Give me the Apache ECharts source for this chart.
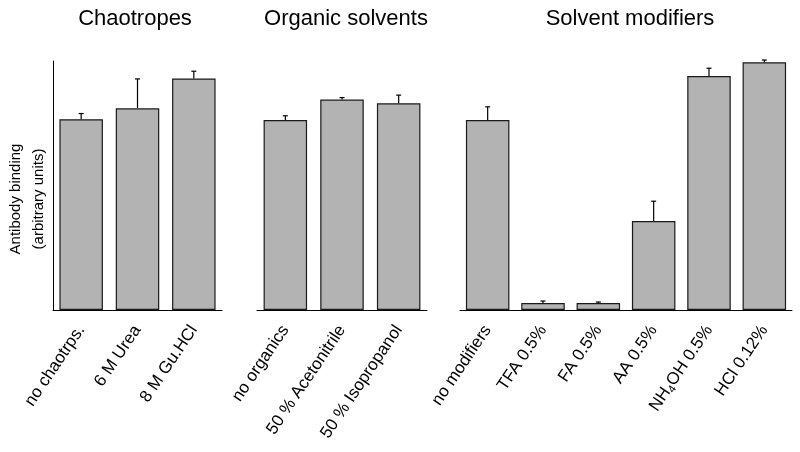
<!DOCTYPE html>
<html>
<head>
<meta charset="utf-8">
<script src="https://cdn.jsdelivr.net/npm/echarts@6/dist/echarts.min.js"></script>
<style>html,body{margin:0;padding:0;background:#fff;}#c{width:800px;height:452px;}</style>
</head>
<body>
<div id="c"></div>
<script>
const panelTitles = ['Chaotropes', 'Organic solvents', 'Solvent modifiers'];
const chaoCats = ['no chaotrps.', '6 M Urea', '8 M Gu.HCl'];
const chaoVals = [0.766, 0.810, 0.930];
const chaoErr = [0.023, 0.118, 0.029];
const orgCats = ['no organics', '50 % Acetonitrile', '50 % Isopropanol'];
const orgVals = [0.763, 0.845, 0.830];
const orgErr = [0.017, 0.008, 0.033];
const modCats = ['no modifiers', 'TFA 0.5%', 'FA 0.5%', 'AA 0.5%', 'NH4OH 0.5%', 'HCl 0.12%'];
const modVals = [0.763, 0.028, 0.028, 0.357, 0.940, 0.995];
const modErr = [0.053, 0.008, 0.004, 0.080, 0.031, 0.009];
const yLabel = 'Antibody binding\n(arbitrary units)';

const FONT = 'Liberation Sans, Arial, sans-serif';
const chart = echarts.init(document.getElementById('c'));

const grids = [
  {left: 53, top: 61, width: 169, height: 249},
  {left: 257, top: 61, width: 170, height: 249},
  {left: 460, top: 61, width: 332, height: 249}
];
const cats = [chaoCats, orgCats, modCats];
const vals = [chaoVals, orgVals, modVals];
const errs = [chaoErr, orgErr, modErr];
const titleX = [130, 341, 625];

function fmt(v) {
  if (v.indexOf('NH4OH') === 0) return 'NH{sub|4}' + 'OH' + v.slice(5);
  return v;
}

const xAxes = cats.map((c, i) => ({
  type: 'category', gridIndex: i, data: c,
  axisLine: {show: true, lineStyle: {color: '#000', width: 1}},
  axisTick: {show: false},
  axisLabel: {
    rotate: 56, margin: 17, color: '#000', fontSize: 17, fontFamily: FONT, interval: 0,
    formatter: fmt,
    rich: {sub: {fontSize: 11, fontFamily: FONT, color: '#000', padding: [9, 0, 0, 0]}}
  }
}));
const yAxes = cats.map((c, i) => ({
  type: 'value', gridIndex: i, min: 0, max: 1,
  axisLine: {show: i === 0, lineStyle: {color: '#000', width: 1}},
  axisTick: {show: false}, axisLabel: {show: false}, splitLine: {show: false}
}));

const series = [];
cats.forEach((c, i) => {
  series.push({
    type: 'bar', xAxisIndex: i, yAxisIndex: i, data: vals[i], barWidth: 43.5,
    itemStyle: {color: '#b3b3b3', borderColor: '#1a1a1a', borderWidth: 1.2},
    silent: true, animation: false
  });
  series.push({
    type: 'custom', xAxisIndex: i, yAxisIndex: i,
    data: vals[i].map((v, k) => [k, v, v + errs[i][k]]),
    animation: false, silent: true, clip: false, z: 5,
    renderItem: function (params, api) {
      const base = api.coord([api.value(0), api.value(1)]);
      const top = api.coord([api.value(0), api.value(2)]);
      const st = {stroke: '#000', lineWidth: 1.2};
      return {type: 'group', children: [
        {type: 'line', shape: {x1: base[0], y1: base[1], x2: top[0], y2: top[1]}, style: st},
        {type: 'line', shape: {x1: top[0] - 2.5, y1: top[1], x2: top[0] + 2.5, y2: top[1]}, style: st}
      ]};
    }
  });
});

chart.setOption({
  backgroundColor: '#fff',
  animation: false,
  title: panelTitles.map((t, i) => ({
    text: t, left: titleX[i], top: 3, textAlign: 'center',
    textStyle: {fontSize: 22, fontWeight: 'normal', color: '#000', fontFamily: FONT}
  })),
  grid: grids,
  xAxis: xAxes,
  yAxis: yAxes,
  series: series,
  graphic: [{
    type: 'text', x: 27, y: 199, rotation: Math.PI / 2,
    style: {text: yLabel, fontSize: 15, lineHeight: 23, fontFamily: FONT, fill: '#000', align: 'center', verticalAlign: 'middle'}
  }]
});
</script>
</body>
</html>
